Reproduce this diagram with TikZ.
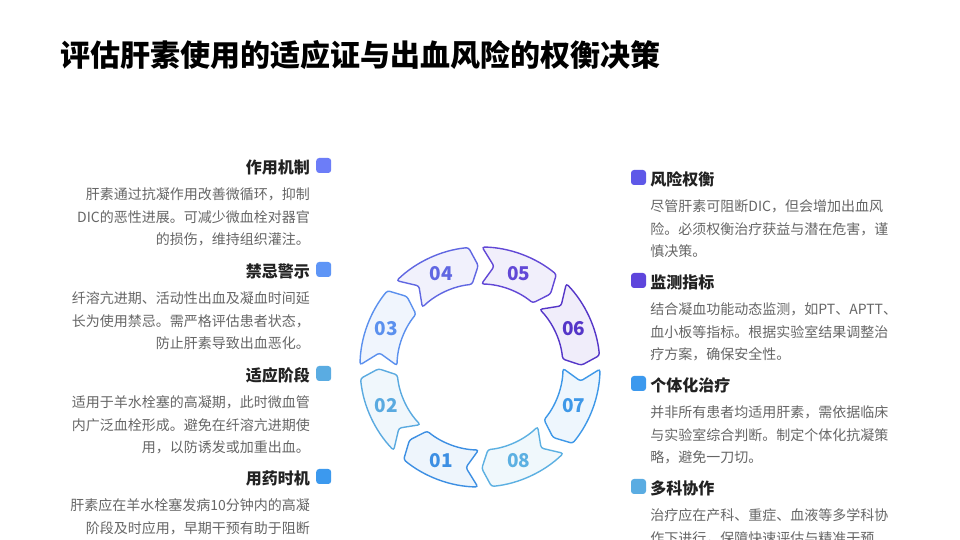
\documentclass[tikz,border=0pt]{standalone}
\usepackage{fontspec}
\setmainfont{Noto Sans CJK SC}
\usetikzlibrary{positioning}
\definecolor{sg01}{HTML}{3D8FE3}
\definecolor{sg02}{HTML}{5AAAE0}
\definecolor{sg03}{HTML}{5B90EE}
\definecolor{sg04}{HTML}{6067E2}
\definecolor{sg05}{HTML}{6248D6}
\definecolor{sg06}{HTML}{5536C8}
\definecolor{sg07}{HTML}{3E98E8}
\definecolor{sg08}{HTML}{5CB0E2}
\definecolor{tmech}{HTML}{6C7DF8}
\definecolor{tcontra}{HTML}{5E95F6}
\definecolor{tstage}{HTML}{5AACE2}
\definecolor{ttiming}{HTML}{3C99EE}
\definecolor{trisk}{HTML}{5E58E8}
\definecolor{tmonit}{HTML}{5E45DC}
\definecolor{headtxt}{HTML}{222222}
\definecolor{bodytxt}{HTML}{666666}
\tikzset{
  ttl/.style={font=\fontsize{30}{36}\selectfont\bfseries,anchor=west,inner sep=0pt},
  head/.style={font=\fontsize{16}{20}\selectfont\bfseries,text=headtxt,inner sep=0pt},
  body/.style={font=\fontsize{14}{22.8}\selectfont,text=bodytxt,inner sep=0pt,text width=262pt},
  tag/.style={rounded corners=3pt,minimum size=15pt,inner sep=0pt},
  seg/.style={line width=1.4pt,rounded corners=2.5pt},
  num/.style={font=\fontsize{19}{20}\selectfont\bfseries,inner sep=0pt},
}
\newcommand{\topicL}[5]{% name, y, colour, heading, text
  \node[head,anchor=east] (h#1) at (310,#2) {#4};
  \node[tag,fill=#3,right=6pt of h#1,yshift=1.5pt] (s#1) {};
  \node[body,align=right,anchor=base east] (b#1) at ([yshift=-32.3pt]h#1.east) {#5};
}
\newcommand{\topicR}[5]{% name, y, colour, heading, text
  \node[tag,fill=#3] (s#1) at (638.5,#2+1.5) {};
  \node[head,right=4pt of s#1,yshift=-1.5pt] (h#1) {#4};
  \node[body,align=left,anchor=base west] (b#1) at ([yshift=-32.3pt]h#1.west) {#5};
}

\begin{document}
\begin{tikzpicture}[x=1pt,y=1pt]
  \fill[white] (0,0) rectangle (960,540);
  \useasboundingbox (0,0) rectangle (960,540);
  \node[ttl] (title) at (60,485) {评估肝素使用的适应证与出血风险的权衡决策};
  % ring of eight arrows
  \begin{scope}[shift={(480,173)}]
    \foreach \n/\c in {01/247.5,02/202.5,03/157.5,04/112.5,05/67.5,06/22.5,07/-22.5,08/-67.5}{
      \draw[seg,draw=sg\n,fill=sg\n!9] ({\c+21.5}:120) arc[start angle=\c+21.5,end angle=\c-17,radius=120]
        -- ({\c-21.5}:101.5) -- ({\c-17}:83) arc[start angle=\c-17,end angle=\c+21.5,radius=83]
        -- ({\c+14.5}:101.5) -- cycle;
      \node[num,text=sg\n] (n\n) at (\c:101.5) {\n};
    }
  \end{scope}
  % left column
  \topicL{mech}{373}{tmech}{作用机制}{肝素通过抗凝作用改善微循环，抑制\\DIC的恶性进展。可减少微血栓对器官\\的损伤，维持组织灌注。}
  \topicL{contra}{269}{tcontra}{禁忌警示}{纤溶亢进期、活动性出血及凝血时间延\\长为使用禁忌。需严格评估患者状态，\\防止肝素导致出血恶化。}
  \topicL{stage}{165}{tstage}{适应阶段}{适用于羊水栓塞的高凝期，此时微血管\\内广泛血栓形成。避免在纤溶亢进期使\\用，以防诱发或加重出血。}
  \topicL{timing}{62}{ttiming}{用药时机}{肝素应在羊水栓塞发病10分钟内的高凝\\阶段及时应用，早期干预有助于阻断}
  % right column
  \topicR{risk}{361}{trisk}{风险权衡}{尽管肝素可阻断DIC，但会增加出血风\\险。必须权衡治疗获益与潜在危害，谨\\慎决策。}
  \topicR{monit}{258}{tmonit}{监测指标}{结合凝血功能动态监测，如PT、APTT、\\血小板等指标。根据实验室结果调整治\\疗方案，确保安全性。}
  \topicR{indiv}{155}{ttiming}{个体化治疗}{并非所有患者均适用肝素，需依据临床\\与实验室综合判断。制定个体化抗凝策\\略，避免一刀切。}
  \topicR{multi}{52}{tstage}{多科协作}{治疗应在产科、重症、血液等多学科协\\作下进行，保障快速评估与精准干预}
\end{tikzpicture}
\end{document}
